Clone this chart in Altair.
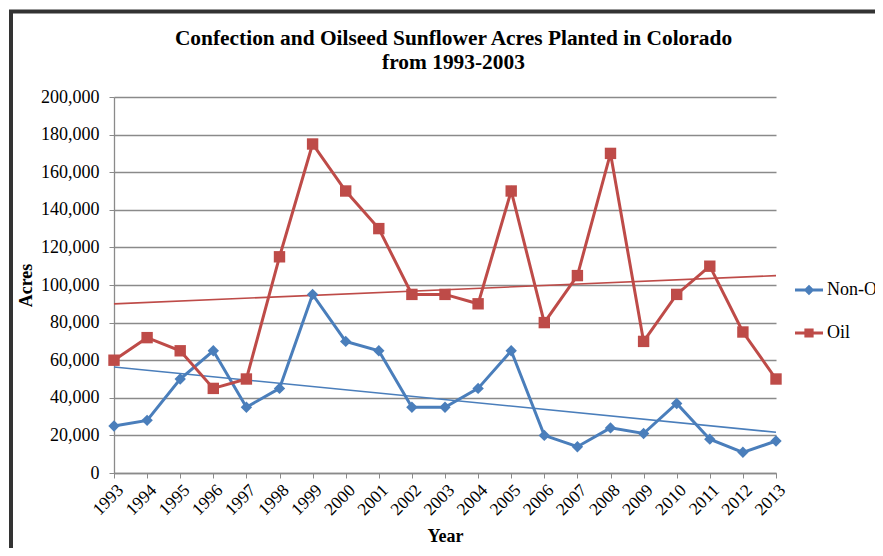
import altair as alt
import pandas as pd

# ---- data ----
years = list(range(1993, 2014))
non_oil = [25000, 28000, 50000, 65000, 35000, 45000, 95000, 70000, 65000, 35000,
           35000, 45000, 65000, 20000, 14000, 24000, 21000, 37000, 18000, 11000, 17000]
oil = [60000, 72000, 65000, 45000, 50000, 115000, 175000, 150000, 130000, 95000,
       95000, 90000, 150000, 80000, 105000, 170000, 70000, 95000, 110000, 75000, 50000]
series_names = ["Non-Oil", "Oil"]
series_colors = ["#4A7EBB", "#BE4B48"]
series_shapes = ["diamond", "square"]
y_ticks = list(range(0, 200001, 20000))

title_lines = ["Confection and Oilseed Sunflower Acres Planted in Colorado",
               "from 1993-2003"]

df = pd.DataFrame({
    "year": years * 2,
    "acres": non_oil + oil,
    "series": [series_names[0]] * len(years) + [series_names[1]] * len(years),
})

FONT = "Liberation Serif"
GRID = "#8A8A8A"
W, H = 662, 376

x_enc = alt.X("year:Q",
              scale=alt.Scale(domain=[years[0], years[-1]], nice=False, zero=False),
              axis=alt.Axis(values=years, format="d", labelAngle=-45, title="Year",
                            grid=False, tickSize=5, labelPadding=3, titlePadding=9,
                            labelOverlap=False, labelFontSize=17.5))
y_enc = alt.Y("acres:Q",
              scale=alt.Scale(domain=[0, 200000], nice=False),
              axis=alt.Axis(values=y_ticks, format=",d", title="Acres", grid=True,
                            tickSize=5, labelPadding=10, titlePadding=5))

base = alt.Chart(df).encode(x=x_enc, y=y_enc)

layers = []
# outer frame of the chart
frame = alt.Chart(pd.DataFrame({"k": [0]})).mark_rect(
    filled=False, stroke="#333333", strokeWidth=4
).encode(x=alt.value(-103), x2=alt.value(782), y=alt.value(-85.5), y2=alt.value(H + 300))
layers.append(frame)

for name, col in zip(series_names, series_colors):
    layers.append(
        base.transform_filter(alt.datum.series == name)
        .transform_regression("year", "acres")
        .mark_line(color=col, strokeWidth=1.6)
    )
for name, col, shp in zip(series_names, series_colors, series_shapes):
    sub = base.transform_filter(alt.datum.series == name)
    layers.append(sub.mark_line(color=col, strokeWidth=3))
    layers.append(sub.mark_point(filled=True, shape=shp, size=130, color=col, opacity=1))

# legend-only layer (no marks drawn)
diamond_path = "M-1,-0.11H1V0.11H-1Z M0,-0.38L0.38,0L0,0.38L-0.38,0Z"
square_path = "M-1,-0.11H1V0.11H-1Z M-0.33,-0.33H0.33V0.33H-0.33Z"
legend_layer = alt.Chart(pd.DataFrame({"series": series_names})).transform_filter(
    "false"
).mark_point(filled=True, opacity=1, size=784).encode(
    color=alt.Color("series:N",
                    scale=alt.Scale(domain=series_names, range=series_colors),
                    legend=alt.Legend(title=None, orient="none", legendX=681, legendY=179,
                                      symbolSize=784, symbolStrokeWidth=0,
                                      labelOffset=4, rowPadding=20, padding=0,
                                      labelFont=FONT, labelFontSize=18, labelColor="black")),
    shape=alt.Shape("series:N",
                    scale=alt.Scale(domain=series_names, range=[diamond_path, square_path]),
                    legend=alt.Legend(title=None, orient="none", legendX=681, legendY=179)),
)
layers.append(legend_layer)

chart = alt.layer(*layers).properties(
    width=W, height=H,
    title=alt.TitleParams(text=title_lines, font=FONT, fontSize=21.4, fontWeight="bold",
                          color="black", anchor="middle", frame="group", dx=8.5,
                          baseline="alphabetic", offset=-81, lineHeight=24),
    autosize=alt.AutoSizeParams(type="none"),
    padding={"left": 106, "top": 89, "right": 99, "bottom": 75},
).configure_view(stroke=None).configure_axis(
    labelFont=FONT, labelFontSize=18, labelColor="black",
    titleFont=FONT, titleFontSize=18, titleFontWeight="bold", titleColor="black",
    domainColor=GRID, tickColor=GRID, gridColor=GRID, domainWidth=1.3, gridWidth=1.3,
)

chart.save("out.html", embed_options={"renderer": "svg", "actions": False})
